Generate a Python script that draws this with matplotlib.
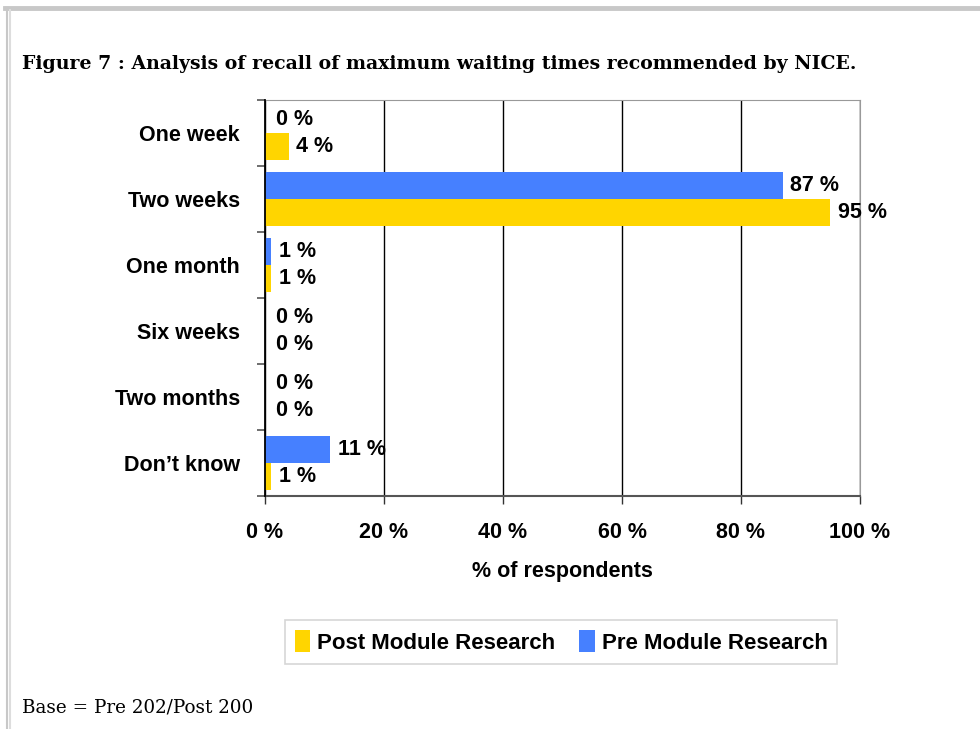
import numpy as np
from matplotlib import pyplot as plt
from matplotlib.lines import Line2D

# data
categories = ["One week", "Two weeks", "One month", "Six weeks", "Two months", "Don\u2019t know"]
pre_values = [0, 87, 1, 0, 0, 11]
post_values = [4, 95, 1, 0, 0, 1]
x_ticks = [0, 20, 40, 60, 80, 100]
x_tick_labels = ["0 %", "20 %", "40 %", "60 %", "80 %", "100 %"]

blue = "#4680FF"
yellow = "#FFD500"
font = "Liberation Sans"

fig = plt.figure(figsize=(9.8, 7.29), dpi=100)
ax = fig.add_axes([265 / 980, 1 - 496 / 729, 595 / 980, 396 / 729])

pos = np.arange(len(categories))
h = 0.41
ax.barh(pos - h / 2, pre_values, height=h, color=blue, label="Pre Module Research", zorder=3)
ax.barh(pos + h / 2, post_values, height=h, color=yellow, label="Post Module Research", zorder=3)

# value labels
for i in range(len(categories)):
    for val, yy in ((pre_values[i], pos[i] - h / 2), (post_values[i], pos[i] + h / 2)):
        ax.annotate(f"{val} %", (val, yy), xytext=(5.5 if val else 8, 0), textcoords="offset points",
                    ha="left", va="center", fontsize=15.5, fontweight="bold",
                    family=font, zorder=4)

ax.set_xlim(0, 100)
ax.set_ylim(len(categories) - 0.5, -0.5)
ax.set_xticks(x_ticks)
ax.set_xticklabels(x_tick_labels, fontsize=15.5, fontweight="bold", family=font)
ax.set_yticks(pos)
ax.set_yticklabels(categories, fontsize=15.5, fontweight="bold", family=font)
ax.set_yticks(np.arange(-0.5, len(categories)), minor=True)
ax.tick_params(axis="y", which="major", length=0, pad=18)
ax.tick_params(axis="y", which="minor", length=6, color="#555555", width=1.2)
ax.tick_params(axis="x", length=6, color="#333333", width=1, pad=13)

ax.grid(axis="x", color="black", linewidth=1, zorder=1)
for s in ("top", "right"):
    ax.spines[s].set_color("#999999")
ax.spines["left"].set_color("black")
ax.spines["left"].set_linewidth(1.3)
ax.spines["bottom"].set_color("#555555")
ax.spines["bottom"].set_linewidth(1.5)
ax.spines["left"].set_zorder(5)

ax.set_xlabel("% of respondents", fontsize=15.5, fontweight="bold", family=font, labelpad=13)

handles, labels = ax.get_legend_handles_labels()
leg = fig.legend(handles[::-1], labels[::-1], loc="center", bbox_to_anchor=(561 / 980, 1 - 642 / 729),
                 ncol=2, frameon=True, fancybox=False, edgecolor="#cccccc",
                 prop={"family": font, "weight": "bold", "size": 16},
                 handlelength=0.7, handleheight=1.1, handletextpad=0.3, columnspacing=1.1,
                 borderpad=0.45, borderaxespad=0)
leg.get_frame().set_linewidth(1.2)

fig.text(22 / 980, 1 - 64 / 729, "Figure 7 : Analysis of recall of maximum waiting times recommended by NICE.",
         fontsize=13.6, fontweight="bold", family="DejaVu Serif", va="center", ha="left")
fig.text(22 / 980, 1 - 708 / 729, "Base = Pre 202/Post 200",
         fontsize=13.2, family="DejaVu Serif", va="center", ha="left")

# page border lines
fig.add_artist(Line2D([5 / 980, 1], [1 - 8 / 729, 1 - 8 / 729], color="#c8c8c8", linewidth=3.5))
fig.add_artist(Line2D([7 / 980, 7 / 980], [0, 1 - 8 / 729], color="#c8c8c8", linewidth=1.5))
fig.add_artist(Line2D([10 / 980, 10 / 980], [0, 1 - 10 / 729], color="#dddddd", linewidth=1.5))

fig.savefig("out.png", dpi=100)
